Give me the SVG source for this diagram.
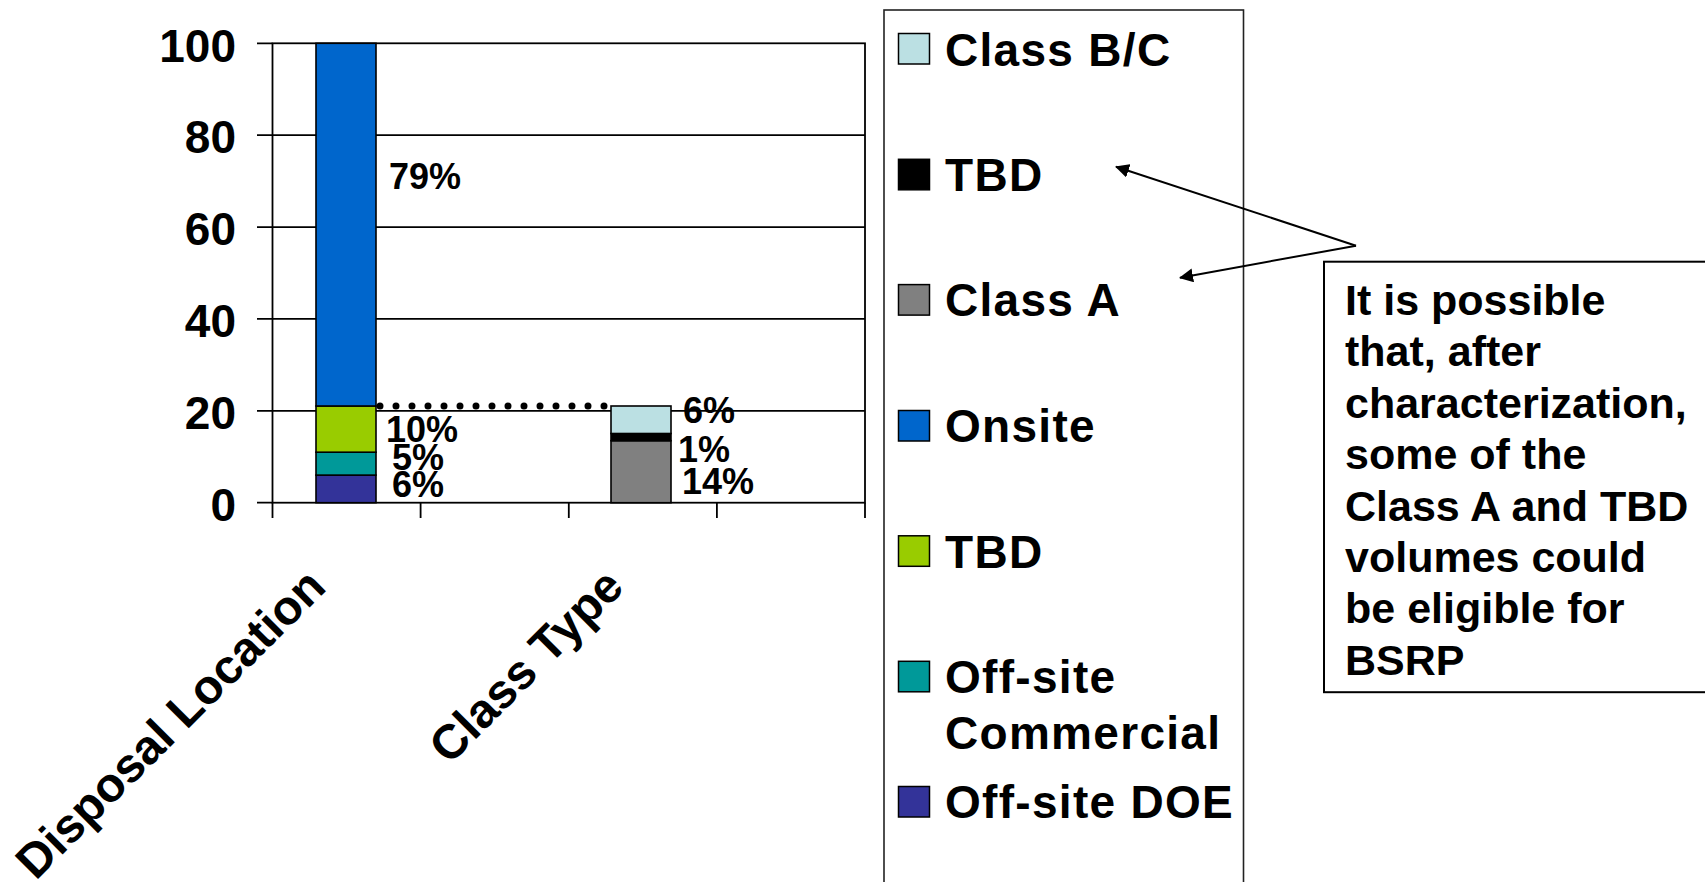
<svg xmlns="http://www.w3.org/2000/svg" width="1705" height="882" viewBox="0 0 1705 882">
<defs>
<marker id="arr" viewBox="0 0 14 14" refX="13" refY="7" markerWidth="14" markerHeight="14" markerUnits="userSpaceOnUse" orient="auto">
<path d="M0,0 L14,7 L0,14 Z" fill="#000"/>
</marker>
</defs>
<style>
text{font-family:"Liberation Sans",Arial,sans-serif;font-weight:bold;fill:#000}
.ax{font-size:46px;text-anchor:end}
.pct{font-size:36px}
.leg{font-size:46px;letter-spacing:1.3px}
.cat{font-size:48px;text-anchor:end}
.note{font-size:43px}
.grid{stroke:#000;stroke-width:1.8;fill:none}
.bar{stroke:#000;stroke-width:1.6}
.sw{stroke:#000;stroke-width:1.5}
</style>
<rect width="1705" height="882" fill="#fff"/>
<g id="plot">
<rect x="272.5" y="43.3" width="592.5" height="459.4" class="grid"/>
<line x1="272.5" y1="135.2" x2="865" y2="135.2" class="grid"/>
<line x1="272.5" y1="227.1" x2="865" y2="227.1" class="grid"/>
<line x1="272.5" y1="318.9" x2="865" y2="318.9" class="grid"/>
<line x1="272.5" y1="410.8" x2="865" y2="410.8" class="grid"/>
<path class="grid" d="M257,43.3H272.5M257,135.2H272.5M257,227.1H272.5M257,318.9H272.5M257,410.8H272.5M257,502.7H272.5"/>
<path class="grid" d="M272.5,502.7V518M420.6,502.7V518M568.8,502.7V518M716.9,502.7V518M865,502.7V518"/>
<text class="ax" x="236" y="61.5">100</text>
<text class="ax" x="236" y="153.2">80</text>
<text class="ax" x="236" y="245.1">60</text>
<text class="ax" x="236" y="336.9">40</text>
<text class="ax" x="236" y="428.8">20</text>
<text class="ax" x="236" y="520.7">0</text>
</g>
<g id="bar-disposal">
<rect class="bar" x="316" y="475.1" width="60" height="27.6" fill="#333399"/>
<rect class="bar" x="316" y="452.2" width="60" height="22.9" fill="#009999"/>
<rect class="bar" x="316" y="406" width="60" height="46.2" fill="#99CC00"/>
<rect class="bar" x="316" y="43.3" width="60" height="362.7" fill="#0066CC"/>
<text class="pct" x="389" y="189">79%</text>
<text class="pct" x="386" y="442">10%</text>
<text class="pct" x="392" y="470">5%</text>
<text class="pct" x="392" y="497">6%</text>
</g>
<g id="bar-class">
<rect class="bar" x="611" y="440.7" width="60" height="62" fill="#808080"/>
<rect class="bar" x="611" y="433.5" width="60" height="7.2" fill="#000"/>
<rect class="bar" x="611" y="406" width="60" height="27.5" fill="#BBE0E3"/>
<text class="pct" x="683" y="422.5">6%</text>
<text class="pct" x="678" y="461.5">1%</text>
<text class="pct" x="682" y="493.5">14%</text>
</g>
<g id="category-labels">
<text class="cat" transform="translate(328,589) rotate(-45)">Disposal Location</text>
<text class="cat" transform="translate(626,589) rotate(-45)">Class Type</text>
</g>
<g id="legend">
<rect x="884" y="10" width="359.5" height="890" fill="none" stroke="#222" stroke-width="1.6"/>
<rect class="sw" x="898.5" y="33.5" width="31" height="30.5" fill="#BBE0E3"/>
<text class="leg" x="945" y="65.5">Class B/C</text>
<rect class="sw" x="898.5" y="159.3" width="31" height="30.5" fill="#000"/>
<text class="leg" x="945" y="191">TBD</text>
<rect class="sw" x="898.5" y="284.6" width="31" height="30.5" fill="#808080"/>
<text class="leg" x="945" y="316.3">Class A</text>
<rect class="sw" x="898.5" y="410.5" width="31" height="30.5" fill="#0066CC"/>
<text class="leg" x="945" y="442.3">Onsite</text>
<rect class="sw" x="898.5" y="535.8" width="31" height="30.5" fill="#99CC00"/>
<text class="leg" x="945" y="567.5">TBD</text>
<rect class="sw" x="898.5" y="661.3" width="31" height="30.5" fill="#009999"/>
<text class="leg" x="945" y="693">Off-site</text>
<text class="leg" x="945" y="749">Commercial</text>
<rect class="sw" x="898.5" y="786.5" width="31" height="30.5" fill="#333399"/>
<text class="leg" x="945" y="818">Off-site DOE</text>
</g>
<g id="note">
<rect x="1324" y="261.7" width="400" height="430.5" fill="#fff" stroke="#000" stroke-width="2"/>
<text class="note" x="1345" y="315">It is possible</text>
<text class="note" x="1345" y="366.4">that, after</text>
<text class="note" x="1345" y="417.8">characterization,</text>
<text class="note" x="1345" y="469.2">some of the</text>
<text class="note" x="1345" y="520.6">Class A and TBD</text>
<text class="note" x="1345" y="572">volumes could</text>
<text class="note" x="1345" y="623.4">be eligible for</text>
<text class="note" x="1345" y="674.8">BSRP</text>
</g>
<g id="connectors">
<line x1="380" y1="406" x2="606" y2="406" stroke="#000" stroke-width="7" stroke-linecap="round" stroke-dasharray="0 16"/>
<line x1="1356" y1="245.7" x2="1116" y2="166.7" stroke="#000" stroke-width="2" marker-end="url(#arr)"/>
<line x1="1356" y1="245.7" x2="1180" y2="277.7" stroke="#000" stroke-width="2" marker-end="url(#arr)"/>
</g>
</svg>
